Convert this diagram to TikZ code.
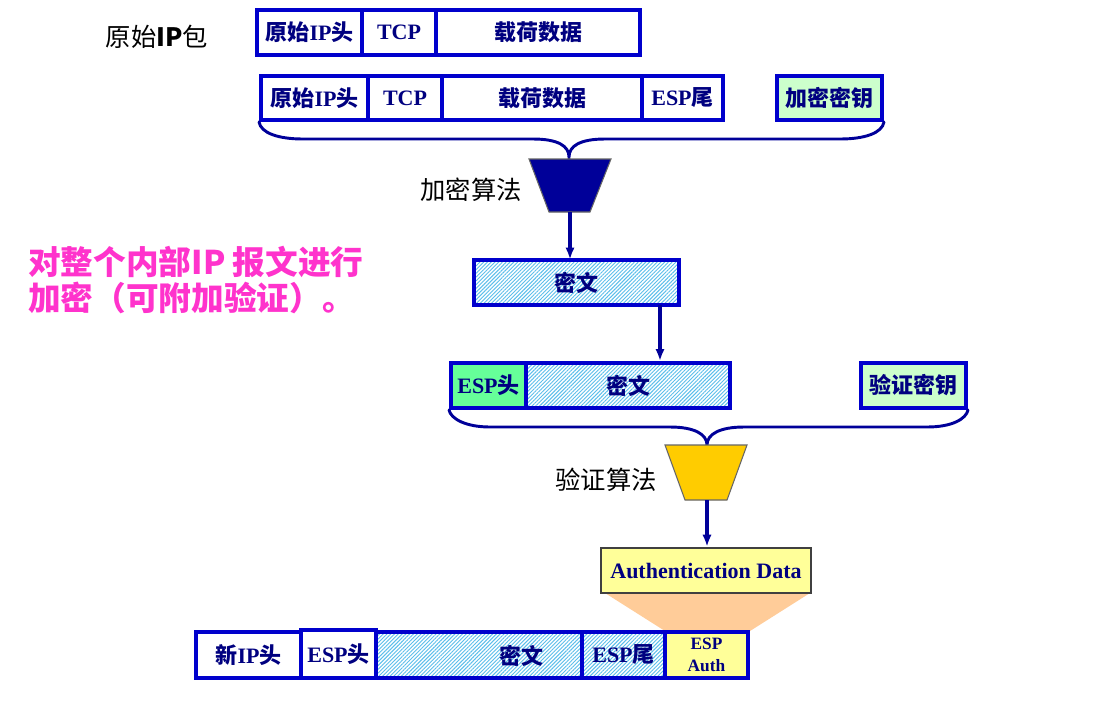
\documentclass[tikz,border=0pt]{standalone}
\usepackage{fontspec}
\setmainfont{Liberation Serif}
\newfontfamily\cjk{Noto Sans CJK SC}
\usetikzlibrary{patterns.meta,arrows.meta}

\definecolor{bord}{RGB}{0,0,204}
\definecolor{navy}{RGB}{0,0,128}
\definecolor{bracec}{RGB}{0,0,153}
\definecolor{hatchc}{RGB}{90,190,235}
\definecolor{espgreen}{RGB}{102,255,153}
\definecolor{keygreen}{RGB}{204,255,204}
\definecolor{goldc}{RGB}{255,204,0}
\definecolor{lyellow}{RGB}{255,255,153}
\definecolor{peach}{RGB}{255,204,153}
\definecolor{pinkc}{RGB}{255,51,204}
\definecolor{trapblue}{RGB}{0,0,153}
\definecolor{authgray}{RGB}{64,64,64}

\newcommand\zh[1]{{\cjk\bfseries #1}}
\newcommand\segbox[7]{%
  \node[segbox,#6,minimum width={(#4-#2)*0.75pt},minimum height={(#5-#3)*0.75pt}]
    (#1) at ({(#2+#4)/2},{(#3+#5)/2}) {#7};}

\tikzset{
  segbox/.style={draw=bord, line width=3pt, inner sep=0pt, fill=white,
    font=\fontsize{16.5}{18}\selectfont\bfseries, text=navy},
  hatched/.style={pattern={Lines[angle=45,distance=2pt,line width=0.7pt]}, pattern color=hatchc},
  espfill/.style={fill=espgreen},
  keyfill/.style={fill=keygreen},
  authfill/.style={fill=lyellow},
  bracepath/.style={draw=bracec, line width=2.2pt, line cap=round},
  arr/.style={draw=trapblue, line width=2.3pt, -{Latex[length=9pt,width=7pt]}},
  lbl/.style={font=\cjk\fontsize{19}{22}\selectfont, text=black, inner sep=0pt},
  trap/.style={draw=gray!80!black, line width=0.8pt}
}

\begin{document}
\begin{tikzpicture}[x=0.75pt,y=-0.75pt]
\useasboundingbox (0,0) rectangle (1102,708);
\fill[white] (0,0) rectangle (1102,708);

% labels
\node[lbl] (lorig) at (157,37) {原始{\bfseries IP}包};
\node[lbl] (lenc) at (471,190) {加密算法};
\node[lbl] (lauth) at (606,480) {验证算法};
\node[anchor=west, align=left, inner sep=0pt, text=pinkc,
      font=\cjk\bfseries\fontsize{24.5}{27}\selectfont] (note) at (28,280)
  {对整个内部IP 报文进行\\加密（可附加验证）。};

% row 1
\segbox{r1a}{257}{10}{362}{55}{}{\zh{原始}IP\zh{头}}
\segbox{r1b}{362}{10}{436}{55}{}{TCP}
\segbox{r1c}{436}{10}{640}{55}{}{\zh{载荷数据}}

% row 2
\segbox{r2a}{261}{76}{368}{120}{}{\zh{原始}IP\zh{头}}
\segbox{r2b}{368}{76}{442}{120}{}{TCP}
\segbox{r2c}{442}{76}{642}{120}{}{\zh{载荷数据}}
\segbox{r2d}{642}{76}{723}{120}{}{ESP\zh{尾}}
\segbox{key1}{777}{76}{882}{120}{keyfill}{\zh{加密密钥}}

% brace 1
\draw[bracepath] (r2a.south west) .. controls (261,133) and (278,139) .. (303,139)
  -- (533,139) .. controls (558,139) and (569,146) .. (569,157)
  .. controls (569,146) and (580,139) .. (605,139)
  -- (840,139) .. controls (865,139) and (882,133) .. (key1.south east);

% encryption trapezoid
\filldraw[trap, fill=trapblue] (529,159) -- (611,159) -- (590,212) -- (549,212) -- cycle;
\coordinate (enc) at (570,212);

% cipher 1
\segbox{c1}{474}{260}{679}{305}{hatched}{\zh{密文}}
\draw[arr] (enc) -- (enc |- c1.north);

% row 3
\segbox{r3a}{451}{363}{526}{408}{espfill}{ESP\zh{头}}
\segbox{r3b}{526}{363}{730}{408}{hatched}{\zh{密文}}
\segbox{key2}{861}{363}{966}{408}{keyfill}{\zh{验证密钥}}
\coordinate (a2) at (660,305);
\draw[arr] (a2) -- (a2 |- r3b.north);

% brace 2
\draw[bracepath] (r3a.south west) .. controls (451,419) and (466,427) .. (490,427)
  -- (670,427) .. controls (694,427) and (707,434) .. (707,445)
  .. controls (707,434) and (720,427) .. (744,427)
  -- (927,427) .. controls (952,427) and (966,419) .. (key2.south east);

% auth trapezoid
\filldraw[trap, fill=goldc] (665,445) -- (747,445) -- (727,500) -- (685,500) -- cycle;
\coordinate (authalg) at (707,500);

% peach funnel
\fill[peach] (605,593) -- (810,593) -- (750,631) -- (665,631) -- cycle;

% authentication data
\node[draw=authgray, line width=2pt, fill=lyellow, inner sep=0pt,
      minimum width={210*0.75pt}, minimum height={45*0.75pt},
      font=\fontsize{16.5}{18}\selectfont\bfseries, text=navy]
  (auth) at (706,570.5) {Authentication Data};
\draw[arr] (authalg) -- (authalg |- auth.north);

% bottom row
\segbox{b1}{196}{632}{301}{678}{}{\zh{新}IP\zh{头}}
\segbox{b2}{301}{630}{376}{678}{}{ESP\zh{头}}
\segbox{b3}{376}{632}{582}{678}{hatched}{}
\node[font=\fontsize{16.5}{18}\selectfont\bfseries, text=navy, inner sep=0pt] (b3t) at (521,656) {\zh{密文}};
\segbox{b4}{582}{632}{665}{678}{hatched}{ESP\zh{尾}}
\segbox{b5}{665}{632}{748}{678}{authfill,align=center,font=\fontsize{13}{16}\selectfont\bfseries}{ESP\\Auth}
\end{tikzpicture}
\end{document}
